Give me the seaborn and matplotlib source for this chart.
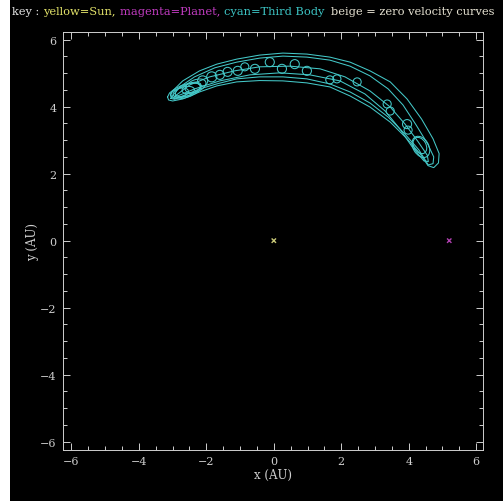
import matplotlib
matplotlib.use("Agg")
import matplotlib.pyplot as plt
from matplotlib.patches import Ellipse, Rectangle
from matplotlib.ticker import MultipleLocator
import pandas as pd
import seaborn as sns

# ---- third-body libration cycles (rotating frame, AU) ----
cycle_a_x = [-3.15, -3.09, -2.94, -2.70, -2.20, -1.69, -1.10, -0.42, 0.27, 0.98, 1.66, 2.26, 2.85, 3.45,
             3.95, 4.38, 4.72, 4.90, 4.88, 4.74, 4.57, 4.34, 3.95, 3.45, 2.85, 2.26, 1.66, 0.98, 0.27,
             -0.42, -1.10, -1.69, -2.20, -2.70, -3.00, -3.12, -3.15]
cycle_a_y = [4.29, 4.41, 4.53, 4.77, 5.07, 5.27, 5.42, 5.54, 5.60, 5.57, 5.48, 5.33, 5.07, 4.74,
             4.23, 3.63, 3.04, 2.60, 2.32, 2.18, 2.24, 2.59, 3.04, 3.54, 3.99, 4.32, 4.59, 4.71, 4.77,
             4.78, 4.74, 4.62, 4.44, 4.23, 4.17, 4.20, 4.29]

cycle_b_x = [-3.06, -2.79, -2.35, -1.75, -1.10, -0.42, 0.27, 0.98, 1.66, 2.26, 2.85, 3.39, 3.83, 4.22,
             4.56, 4.74, 4.72, 4.58, 4.30, 3.89, 3.39, 2.85, 2.26, 1.66, 0.98, 0.27, -0.42, -1.10,
             -1.69, -2.20, -2.64, -2.95, -3.06]
cycle_b_y = [4.25, 4.59, 4.89, 5.16, 5.33, 5.45, 5.51, 5.48, 5.39, 5.21, 4.92, 4.53, 4.05, 3.45,
             2.89, 2.50, 2.30, 2.26, 2.71, 3.18, 3.69, 4.11, 4.44, 4.68, 4.83, 4.89, 4.89, 4.83,
             4.68, 4.53, 4.35, 4.22, 4.25]

cycle_c_x = [-2.95, -2.49, -1.90, -1.16, -0.42, 0.48, 1.37, 2.11, 2.85, 3.45, 3.89, 4.28, 4.55, 4.58,
             4.45, 4.10, 3.74, 3.30, 2.70, 1.96, 1.07, 0.18, -0.71, -1.60, -2.35, -2.85, -2.95]
cycle_c_y = [4.30, 4.65, 4.89, 5.07, 5.19, 5.21, 5.13, 4.89, 4.47, 3.99, 3.48, 2.95, 2.55, 2.36,
             2.38, 2.80, 3.33, 3.87, 4.38, 4.77, 4.95, 5.01, 4.95, 4.77, 4.53, 4.32, 4.30]

# small epicycle loops along the path: centre, diameter
loop_x = [-2.11, -1.84, -1.60, -1.37, -1.07, -0.86, -0.56, -0.12, 0.24, 0.62, 0.98, 1.66, 1.87, 2.47, 3.36, 3.45, 3.95, 3.98]
loop_y = [4.77, 4.89, 4.95, 5.04, 5.07, 5.19, 5.13, 5.33, 5.13, 5.27, 5.07, 4.80, 4.83, 4.74, 4.08, 3.87, 3.48, 3.30]
loop_d = [0.30, 0.30, 0.27, 0.27, 0.27, 0.24, 0.27, 0.27, 0.27, 0.27, 0.27, 0.24, 0.24, 0.24, 0.24, 0.24, 0.27, 0.24]

# nested libration ellipses at both turning points: centre, width, height, tilt
turn_x = [-2.61, -2.55, -2.67, -2.44, -2.79, -2.32, 4.36, 4.33]
turn_y = [4.47, 4.50, 4.44, 4.56, 4.41, 4.62, 2.80, 2.84]
turn_w = [0.95, 0.77, 0.65, 0.59, 0.53, 0.65, 0.68, 0.52]
turn_h = [0.39, 0.33, 0.30, 0.30, 0.27, 0.36, 0.46, 0.36]
turn_a = [18, 20, 15, 20, 15, 22, -60, -60]

# ---- massive bodies ----
body_names = ["Sun", "Planet"]
body_x = [0.0, 5.2]
body_y = [0.0, 0.0]

key_parts = ["key : ", "yellow=Sun, ", "magenta=Planet, ", "cyan=Third Body  ", "beige = zero velocity curves"]
key_colors = ["#e6e6e6", "#e4e46a", "#c23cc2", "#3cc4c4", "#e8e4d4"]

x_ticks = [-6, -4, -2, 0, 2, 4, 6]
y_ticks = [-6, -4, -2, 0, 2, 4, 6]

CYAN = "#44c8c8"
FG = "#cfcfcf"

sns.set_style("ticks")
plt.rcParams["font.family"] = ["DejaVu Serif", "DejaVu Sans"]
plt.rcParams["axes.unicode_minus"] = True

fig = plt.figure(figsize=(5.03, 5.02), dpi=100, facecolor="white")
fig.patches.append(Rectangle((10 / 503, 0), 1 - 10 / 503, 1, transform=fig.transFigure,
                             facecolor="black", edgecolor="none", zorder=-10))
ax = fig.add_axes([0.1252, 0.1016, 0.835, 0.8327])
ax.set_facecolor("black")
ax.set_zorder(1)

cycles = [(cycle_a_x, cycle_a_y), (cycle_b_x, cycle_b_y), (cycle_c_x, cycle_c_y)]
rows = []
for k, (sx, sy) in enumerate(cycles):
    for i, (xv, yv) in enumerate(zip(sx, sy)):
        rows.append({"x": xv, "y": yv, "cycle": k, "step": i})
traj = pd.DataFrame(rows)
sns.lineplot(data=traj, x="x", y="y", units="cycle", estimator=None, sort=False,
             color=CYAN, linewidth=0.75, ax=ax, legend=False)

for cx, cy, d in zip(loop_x, loop_y, loop_d):
    ax.add_patch(Ellipse((cx, cy), d, d, fill=False, edgecolor=CYAN, linewidth=0.75))
for cx, cy, w, h, a in zip(turn_x, turn_y, turn_w, turn_h, turn_a):
    ax.add_patch(Ellipse((cx, cy), w, h, angle=a, fill=False, edgecolor=CYAN, linewidth=0.75))

bodies = pd.DataFrame({"name": body_names, "x": body_x, "y": body_y})
sns.scatterplot(data=bodies, x="x", y="y", hue="name", palette={"Sun": "#c8c878", "Planet": "#b040b0"},
                marker="x", s=10, linewidth=1.0, ax=ax, legend=False)

ax.set_xlim(-6.25, 6.2)
ax.set_ylim(-6.25, 6.23)
ax.set_xticks(x_ticks)
ax.set_yticks(y_ticks)
ax.xaxis.set_minor_locator(MultipleLocator(0.5))
ax.yaxis.set_minor_locator(MultipleLocator(0.5))
ax.tick_params(which="both", direction="in", top=True, right=True, color=FG, labelcolor=FG,
               width=0.7, labelsize=8)
ax.tick_params(which="major", length=5.2, pad=4.5)
ax.tick_params(which="minor", length=2.6)
for sp in ax.spines.values():
    sp.set_color(FG)
    sp.set_linewidth(0.7)
ax.set_xlabel("x (AU)", color=FG, fontsize=8.5, labelpad=1.5)
ax.set_ylabel("y (AU)", color=FG, fontsize=8.5, labelpad=1)

# coloured key line across the top, fitted to the panel width
fig.canvas.draw()
renderer = fig.canvas.get_renderer()
target_px = 484.0
probe = fig.text(0, 0, "".join(key_parts), fontsize=10)
w10 = probe.get_window_extent(renderer).width
probe.remove()
fs = 10 * target_px / w10
xpos = 12.5
for part, col in zip(key_parts, key_colors):
    t = fig.text(xpos / 503, 1 - 12 / 502, part, color=col, fontsize=fs, va="center", ha="left")
    xpos += t.get_window_extent(renderer).width

fig.savefig("out.png", dpi=100, facecolor=fig.get_facecolor())
